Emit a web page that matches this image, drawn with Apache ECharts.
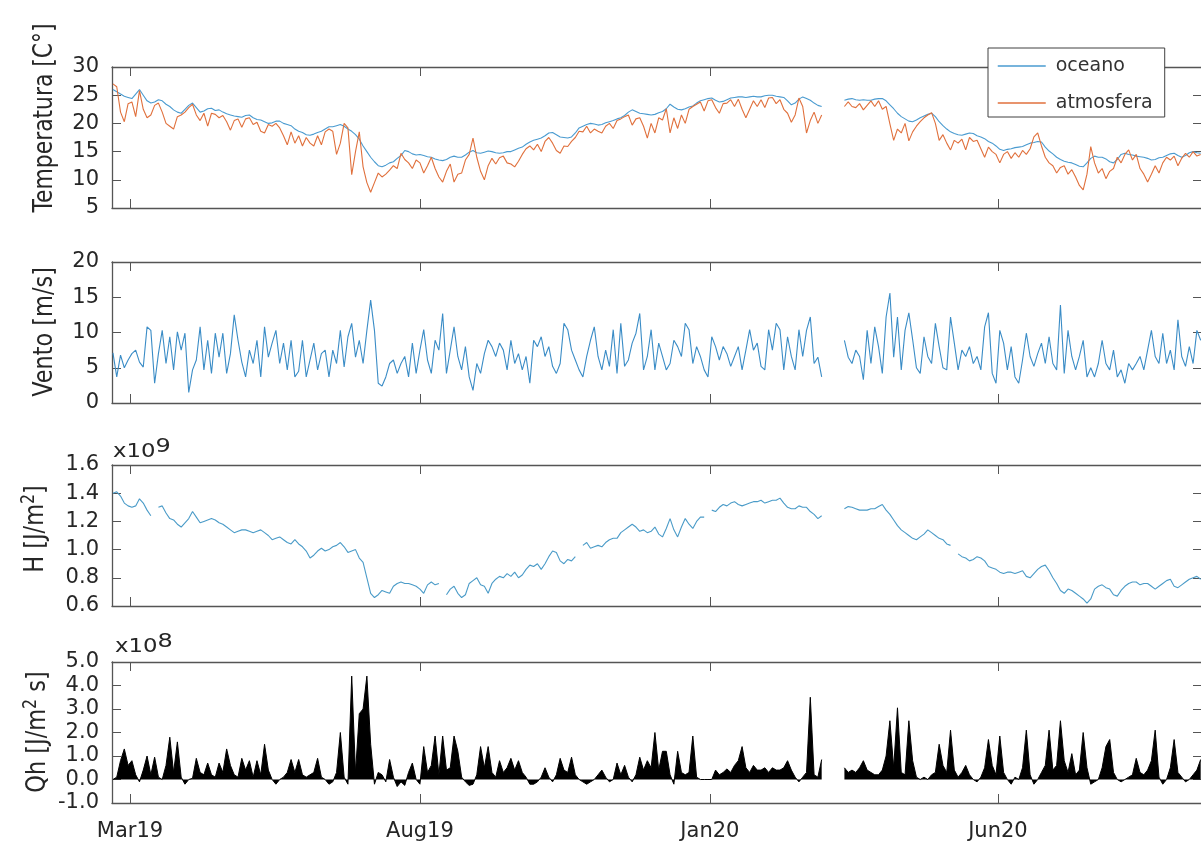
<!DOCTYPE html>
<html>
<head>
<meta charset="utf-8">
<script src="https://cdn.jsdelivr.net/npm/echarts@6.0.0/dist/echarts.min.js"></script>
<style>
html,body{margin:0;padding:0;background:#ffffff;}
#chart{width:1201px;height:846px;}
</style>
</head>
<body>
<div id="chart"></div>
<script>
// ---------------- data ----------------
const startDate = '2019-02-20';   // first sample (day 0)
const dayStep = 2;                // days between samples
const xTickDays = [9, 162, 315, 467];           // days since startDate
const xTickLabels = ['Mar19', 'Aug19', 'Jan20', 'Jun20'];
const tempTicks = [5, 10, 15, 20, 25, 30];
const ventoTicks = [0, 5, 10, 15, 20];
const hTicks = [0.6, 0.8, 1.0, 1.2, 1.4, 1.6];
const qhTicks = [-1, 0, 1, 2, 3, 4, 5];

// Temperatura [C°]
const oceano = [
26.0,25.6,25.2,24.8,24.6,24.4,25.2,26.0,25.0,24.0,
23.6,23.8,24.2,24.0,23.4,23.0,22.4,22.0,21.8,22.5,
23.2,23.6,22.8,22.0,22.2,22.6,22.7,22.3,22.4,22.0,
21.7,21.5,21.3,21.2,21.1,21.4,21.5,21.0,20.7,20.6,
20.3,20.0,20.1,20.4,20.4,20.0,19.8,19.6,19.0,18.6,
18.4,18.0,17.9,18.1,18.4,18.6,19.0,19.4,19.4,19.6,
19.8,19.5,19.0,18.6,18.0,17.2,16.0,15.0,14.0,13.2,
12.5,12.3,12.6,13.0,13.2,13.8,14.3,15.2,15.0,14.6,
14.4,14.5,14.3,14.1,14.0,13.7,13.5,13.4,13.6,14.0,
14.2,14.0,14.0,14.4,14.9,15.2,14.8,14.7,14.9,15.1,
15.0,14.8,14.7,14.8,15.0,15.0,15.3,15.6,15.8,16.3,
16.7,17.0,17.2,17.4,17.8,18.3,18.4,18.0,17.6,17.5,
17.4,17.6,18.3,19.2,19.5,19.8,20.0,19.9,19.7,19.8,
20.1,20.3,20.5,20.8,21.0,21.4,22.0,22.4,22.1,21.8,
21.7,21.6,21.5,21.6,21.9,22.1,22.6,23.4,22.9,22.5,
22.4,22.6,22.9,23.1,23.6,24.0,24.2,24.4,24.5,24.1,
23.8,23.9,24.2,24.5,24.6,24.7,24.7,24.6,24.7,24.8,
24.7,24.7,24.9,25.0,25.0,24.8,24.7,24.6,24.0,23.3,
23.6,24.3,24.7,24.4,24.1,23.6,23.2,23.0,null,null,
null,null,null,24.1,24.3,24.4,24.2,24.1,24.2,24.1,
24.1,24.3,24.4,24.4,24.0,23.3,22.6,21.8,21.2,20.8,
20.4,20.3,20.6,21.0,21.3,21.6,21.8,21.2,20.3,19.6,
19.0,18.5,18.2,18.0,17.9,18.1,18.3,18.2,17.8,17.6,
17.3,16.8,16.5,16.0,15.4,15.2,15.4,15.5,15.7,15.8,
15.9,16.2,16.5,16.6,16.8,16.7,15.8,15.1,14.6,14.0,
13.6,13.3,13.1,13.0,12.7,12.4,12.3,13.0,13.8,14.2,
14.0,14.0,13.7,13.2,13.0,13.6,14.5,14.7,14.5,14.4,
14.2,14.1,14.0,13.8,13.5,13.6,13.9,14.0,14.3,14.6,
14.7,14.3,14.0,14.3,14.8,15.0,14.8,14.7
];
const atmosfera = [
27.0,26.5,22.0,20.3,23.5,23.8,21.2,25.8,22.5,21.0,
21.5,23.2,23.6,22.0,20.0,19.5,19.0,21.2,21.5,22.0,
22.8,23.4,21.5,20.5,21.8,19.5,21.8,21.6,21.0,21.4,
20.3,18.8,20.5,20.8,19.3,20.8,21.0,19.8,20.2,18.6,
18.3,19.8,19.5,20.0,19.2,17.8,16.2,18.5,16.5,17.8,
16.0,17.5,16.5,16.0,17.8,16.2,18.5,19.0,18.6,14.5,
16.5,20.0,19.2,10.9,15.0,18.5,12.3,9.5,7.8,9.5,
11.2,10.5,11.0,11.7,12.5,12.0,14.7,13.6,13.0,12.0,
13.5,13.0,11.2,12.5,14.0,12.0,10.5,9.6,11.5,12.8,
9.6,11.0,11.2,13.5,14.5,17.4,14.0,11.5,10.0,12.5,
13.8,12.8,13.9,14.2,13.0,12.8,12.3,13.3,14.5,15.5,
16.0,15.3,16.3,15.0,16.8,17.5,16.5,15.2,14.7,16.0,
15.9,16.8,17.5,18.6,18.5,19.5,18.3,19.0,18.6,18.3,
19.5,20.0,19.1,20.5,20.8,21.2,21.5,19.7,20.8,21.0,
19.5,17.4,20.0,18.3,21.0,20.6,22.6,18.3,21.0,19.1,
21.5,20.0,22.5,23.0,23.4,23.8,22.2,24.0,24.2,22.8,
21.8,23.5,23.6,24.2,23.0,24.3,22.5,21.0,22.5,24.0,
23.0,24.2,22.8,24.5,24.6,23.5,24.2,22.5,21.8,20.2,
21.5,24.5,23.0,18.3,20.5,22.0,20.0,21.5,null,null,
null,null,null,23.0,23.8,23.0,22.8,23.5,22.4,23.2,
24.0,23.0,24.0,22.5,23.0,19.9,17.0,19.0,18.3,20.0,
16.9,18.5,19.5,20.3,21.0,21.5,21.9,20.0,17.0,18.0,
16.5,15.3,17.0,16.5,17.2,15.3,17.5,16.8,17.0,15.5,
14.0,15.8,15.0,14.5,13.0,14.5,15.0,13.8,14.8,14.0,
15.2,14.5,15.5,17.6,18.3,16.0,14.0,13.0,12.5,11.2,
12.2,12.5,11.0,11.8,10.5,9.0,8.2,11.0,15.9,13.0,
11.2,12.0,10.2,11.5,12.0,14.0,13.0,14.5,15.3,13.5,
14.5,12.0,11.0,9.6,11.0,12.5,11.2,13.0,14.0,13.5,
14.2,12.5,13.8,14.7,14.0,15.0,14.2,14.5
];
// Vento [m/s]
const vento = [
7.1,3.7,6.8,5.0,6.1,7.0,7.5,5.8,5.1,10.8,
10.3,2.8,7.0,10.3,5.6,9.4,4.7,10.1,7.5,9.9,
1.5,4.7,6.1,10.8,4.7,8.9,4.2,9.9,6.5,9.9,
4.2,7.0,12.5,8.9,5.8,3.7,7.5,5.6,8.9,3.7,
10.8,6.5,8.5,10.3,5.6,8.5,4.7,8.9,3.7,4.5,
8.9,3.7,6.1,8.5,4.7,7.0,7.5,3.7,7.5,5.6,
10.3,5.1,9.4,11.3,6.5,8.9,5.6,10.3,14.6,10.3,
2.8,2.4,3.7,5.6,6.1,4.2,5.6,6.6,3.7,8.5,
4.2,7.5,10.4,6.1,4.2,8.9,7.5,12.7,4.2,7.5,
10.8,6.6,4.7,8.0,3.7,1.8,5.6,4.2,7.0,8.9,
8.0,6.6,8.5,7.5,4.7,8.9,5.6,7.0,4.7,6.6,
2.8,8.9,8.0,9.4,6.6,8.0,5.2,4.2,5.6,11.3,
10.4,7.5,6.1,4.7,3.7,6.6,8.9,10.8,6.6,4.7,
7.5,5.2,10.4,4.2,11.3,5.2,6.1,8.5,9.9,12.7,
4.7,6.6,10.4,4.7,8.5,6.6,4.7,5.6,8.9,8.0,
6.6,11.3,10.4,5.6,8.0,6.6,4.7,3.7,9.4,8.0,
6.1,8.0,7.0,5.2,6.6,8.0,4.7,7.5,10.4,7.5,
8.5,5.2,4.7,10.4,7.5,11.3,10.4,4.7,9.4,6.6,
4.7,10.4,6.6,10.3,12.2,5.6,6.5,3.7,null,null,
null,null,null,8.9,6.5,5.6,7.5,6.6,3.3,10.3,
5.6,10.8,8.0,4.2,12.2,15.6,6.5,12.2,4.7,10.3,
12.8,9.0,5.0,4.2,9.4,6.6,5.6,11.3,8.0,5.0,
4.7,12.2,8.5,4.7,7.5,6.6,8.0,5.6,6.6,4.7,
10.8,12.8,4.2,2.8,10.3,8.5,4.7,8.0,3.7,2.8,
6.1,9.9,6.6,5.2,7.0,8.5,5.6,9.4,5.6,4.7,
13.9,4.2,10.3,6.6,4.7,6.6,8.9,3.7,5.0,3.7,
5.6,8.9,5.6,4.7,7.5,3.7,4.7,2.8,5.6,4.7,
5.6,6.6,4.7,7.5,10.3,6.6,5.6,9.9,5.6,7.5,
4.7,11.8,6.6,5.2,8.0,5.6,10.3,8.9
];
// H [J/m²] in units of 1e9
const calorH = [
1.40,1.41,1.38,1.33,1.31,1.30,1.31,1.36,1.33,1.28,
1.24,null,1.30,1.31,1.26,1.22,1.21,1.18,1.16,1.19,
1.22,1.27,1.23,1.19,1.20,1.21,1.22,1.21,1.19,1.18,
1.16,1.14,1.12,1.13,1.14,1.14,1.13,1.12,1.13,1.14,
1.12,1.10,1.07,1.08,1.09,1.07,1.05,1.04,1.07,1.04,
1.02,0.99,0.94,0.96,0.99,1.01,0.99,1.00,1.02,1.03,
1.05,1.02,0.98,0.99,1.00,0.94,0.91,0.80,0.69,0.66,
0.68,0.71,0.70,0.69,0.74,0.76,0.77,0.76,0.76,0.75,
0.74,0.72,0.69,0.75,0.77,0.75,0.76,null,0.68,0.72,
0.74,0.69,0.66,0.68,0.76,0.78,0.80,0.75,0.74,0.69,
0.76,0.79,0.81,0.80,0.83,0.81,0.84,0.80,0.82,0.86,
0.89,0.88,0.90,0.86,0.90,0.95,0.99,0.98,0.92,0.90,
0.93,0.92,0.95,null,1.03,1.05,1.01,1.02,1.03,1.02,
1.05,1.07,1.08,1.08,1.12,1.14,1.16,1.18,1.16,1.13,
1.14,1.12,1.13,1.16,1.11,1.09,1.15,1.22,1.14,1.09,
1.16,1.22,1.18,1.15,1.20,1.23,1.23,null,1.28,1.27,
1.30,1.32,1.31,1.33,1.34,1.32,1.31,1.32,1.33,1.34,
1.34,1.35,1.33,1.34,1.35,1.35,1.365,1.33,1.30,1.29,
1.29,1.31,1.30,1.30,1.27,1.25,1.22,1.24,null,null,
null,null,null,1.29,1.305,1.30,1.29,1.28,1.28,1.28,
1.29,1.29,1.305,1.32,1.28,1.25,1.21,1.17,1.14,1.12,
1.10,1.08,1.07,1.09,1.11,1.14,1.12,1.10,1.08,1.07,
1.04,1.03,null,0.97,0.95,0.94,0.92,0.93,0.95,0.94,
0.92,0.88,0.87,0.86,0.84,0.83,0.84,0.84,0.83,0.84,
0.85,0.81,0.80,0.83,0.86,0.88,0.89,0.85,0.80,0.76,
0.71,0.69,0.72,0.71,0.69,0.67,0.65,0.62,0.65,0.72,
0.74,0.75,0.73,0.72,0.68,0.67,0.71,0.74,0.76,0.77,
0.77,0.75,0.76,0.76,0.74,0.72,0.74,0.76,0.78,0.79,
0.74,0.73,0.75,0.77,0.79,0.80,0.81,0.79
];
// Qh [J/m² s] in units of 1e8
const fluxoQh = [
0.0,0.1,0.8,1.3,0.6,0.8,0.2,-0.1,0.4,1.0,
0.2,0.95,0.1,0.0,0.6,1.8,0.3,1.6,0.1,-0.2,
0.0,0.05,0.9,0.3,0.2,0.7,0.2,0.1,0.7,0.3,
1.3,0.6,0.2,0.1,0.9,0.4,0.8,0.1,0.8,0.2,
1.5,0.4,0.0,-0.2,0.0,0.1,0.3,0.85,0.3,0.85,
0.2,0.1,0.2,0.3,0.9,0.1,0.0,-0.2,-0.1,0.3,
2.0,0.1,-0.2,4.4,0.3,2.8,3.0,4.4,1.5,-0.2,
0.3,0.2,-0.1,0.85,0.1,-0.3,-0.1,-0.25,0.3,0.7,
0.0,-0.2,1.4,0.3,0.6,1.85,0.2,1.85,0.4,0.5,
1.85,1.2,0.1,-0.1,-0.25,-0.2,0.2,1.4,0.5,1.4,
0.3,0.1,0.8,0.3,0.5,0.9,0.4,0.8,0.3,0.1,
-0.2,-0.2,-0.1,0.1,0.5,0.1,-0.1,0.2,0.9,0.4,
0.3,0.95,0.2,0.0,-0.1,-0.2,-0.1,0.0,0.2,0.4,
0.1,-0.1,0.0,0.7,0.2,0.6,0.1,-0.1,0.2,0.95,
0.4,0.8,0.5,2.0,0.4,1.2,1.2,0.2,-0.2,1.2,
0.3,0.2,0.3,1.85,0.1,0.0,0.0,0.0,0.0,0.4,
0.2,0.3,0.45,0.3,0.6,0.8,1.4,0.5,0.3,0.6,
0.4,0.4,0.5,0.3,0.5,0.4,0.4,0.5,0.8,0.4,
0.1,-0.1,0.1,0.3,3.5,0.2,0.1,0.85,null,null,
null,null,null,0.5,0.3,0.4,0.3,0.5,0.8,0.4,
0.3,0.2,0.2,0.4,1.0,2.5,0.5,3.05,0.3,0.2,
2.5,0.8,0.1,0.0,0.1,0.0,0.2,0.3,1.5,0.6,
0.3,2.1,0.4,0.1,0.3,0.6,0.2,0.0,-0.1,0.1,
0.5,1.7,0.6,0.2,1.85,0.3,0.0,-0.2,0.1,0.0,
0.5,2.1,0.2,-0.2,0.0,0.3,0.6,2.1,0.4,0.6,
2.5,0.8,0.3,1.1,0.2,0.4,2.0,0.5,-0.2,-0.1,
0.0,0.5,1.4,1.7,0.3,0.0,-0.1,0.0,0.1,0.2,
0.9,0.3,0.2,0.4,0.8,2.1,0.1,-0.2,0.0,0.5,
1.7,0.3,0.1,-0.1,0.0,0.2,0.4,0.85
];

// ---------------- chart ----------------
const FONT = 'DejaVu Sans';
const TXT = '#262626';
const AXC = '#555555';
const xMin = -0.5, xMax = 574.7;
const grids = [
  {left: 112, top: 67, width: 1090, height: 141},
  {left: 112, top: 262, width: 1090, height: 141},
  {left: 112, top: 465, width: 1090, height: 141},
  {left: 112, top: 662, width: 1090, height: 141}
];
grids.forEach(g => { g.outerBoundsMode = 'none'; g.containLabel = false; });
const yTickSets = [tempTicks, ventoTicks, hTicks, qhTicks];
const yDec = [0, 0, 1, 1];
function pairs(arr) { return arr.map((v, i) => [i * dayStep, v]); }

const xAxes = [], yAxes = [];
grids.forEach((g, k) => {
  ['bottom', 'top'].forEach(pos => {
    xAxes.push({
      type: 'value', gridIndex: k, position: pos, min: xMin, max: xMax,
      axisLine: {show: true, onZero: false, lineStyle: {color: AXC, width: 1.3}},
      axisTick: {show: true, inside: true, length: 9, customValues: xTickDays, lineStyle: {color: AXC, width: 1}},
      axisLabel: {
        show: k === 3 && pos === 'bottom', customValues: xTickDays, margin: 18,
        fontFamily: FONT, fontSize: 21, color: TXT,
        formatter: v => { const j = xTickDays.indexOf(v); return j >= 0 ? xTickLabels[j] : ''; }
      },
      splitLine: {show: false}
    });
  });
  const t = yTickSets[k];
  ['left', 'right'].forEach(pos => {
    yAxes.push({
      type: 'value', gridIndex: k, position: pos, min: t[0], max: t[t.length - 1],
      axisLine: {show: true, onZero: false, lineStyle: {color: AXC, width: 1.3}},
      axisTick: {show: true, inside: true, length: 9, customValues: t, lineStyle: {color: AXC, width: 1}},
      axisLabel: {
        show: pos === 'left', customValues: t, margin: 13,
        fontFamily: FONT, fontSize: 21, color: TXT,
        formatter: v => Number(v).toFixed(yDec[k])
      },
      splitLine: {show: false}
    });
  });
});

function lineSeries(name, data, k, color, extra) {
  return Object.assign({
    name: name, type: 'line', xAxisIndex: 2 * k, yAxisIndex: 2 * k,
    data: pairs(data), symbol: 'none', showSymbol: false, connectNulls: false,
    lineStyle: {color: color, width: 1.1}, itemStyle: {color: color},
    animation: false
  }, extra || {});
}

const nameStyle = {fontFamily: FONT, fontSize: 27, fill: TXT};
const option = {
  backgroundColor: '#ffffff',
  animation: false,
  grid: grids,
  xAxis: xAxes,
  yAxis: yAxes,
  legend: {
    data: ['oceano', 'atmosfera'], orient: 'vertical', left: 988, top: 48,
    padding: [8, 12, 4, 9], itemGap: 17, itemWidth: 48, itemHeight: 20,
    backgroundColor: '#ffffff', borderColor: '#404040', borderWidth: 1, borderRadius: 0,
    textStyle: {fontFamily: FONT, fontSize: 19, color: '#333333', lineHeight: 20, padding: [0, 0, 0, 5]},
    itemStyle: {opacity: 0},
    lineStyle: {width: 1.5}
  },
  series: [
    lineSeries('oceano', oceano, 0, '#4a9bd0'),
    lineSeries('atmosfera', atmosfera, 0, '#e0703c'),
    lineSeries('vento', vento, 1, '#3a8cc6'),
    lineSeries('H', calorH, 2, '#4a9bc8'),
    lineSeries('Qh', fluxoQh, 3, '#000000', {areaStyle: {color: '#000000', opacity: 1}, lineStyle: {color: '#000000', width: 1}})
  ],
  graphic: [
    {type: 'text', x: 45, y: 118, rotation: Math.PI / 2, scaleX: 0.81,
      style: Object.assign({text: 'Temperatura [C°]', align: 'center', verticalAlign: 'middle'}, nameStyle)},
    {type: 'text', x: 45, y: 332, rotation: Math.PI / 2, scaleX: 0.83,
      style: Object.assign({text: 'Vento [m/s]', align: 'center', verticalAlign: 'middle'}, nameStyle)},
    {type: 'text', x: 36, y: 529, rotation: Math.PI / 2, scaleX: 0.83,
      style: {text: '{n|H [J/m}{s|2}{n|]}', align: 'center', verticalAlign: 'middle',
        rich: {n: {fontFamily: FONT, fontSize: 27, fill: TXT, lineHeight: 32},
               s: {fontFamily: FONT, fontSize: 19, fill: TXT, lineHeight: 18, verticalAlign: 'top'}}}},
    {type: 'text', x: 38, y: 732, rotation: Math.PI / 2, scaleX: 0.83,
      style: {text: '{n|Qh [J/m}{s|2}{n| s]}', align: 'center', verticalAlign: 'middle',
        rich: {n: {fontFamily: FONT, fontSize: 27, fill: TXT, lineHeight: 32},
               s: {fontFamily: FONT, fontSize: 19, fill: TXT, lineHeight: 18, verticalAlign: 'top'}}}},
    {type: 'text', x: 113, y: 437, scaleX: 1.2,
      style: {text: '{a|x10}{b|9}', align: 'left', verticalAlign: 'top',
        rich: {a: {fontFamily: FONT, fontSize: 19, fill: TXT, lineHeight: 30},
               b: {fontFamily: FONT, fontSize: 20, fill: TXT, lineHeight: 14, verticalAlign: 'top'}}}},
    {type: 'text', x: 115, y: 632, scaleX: 1.2,
      style: {text: '{a|x10}{b|8}', align: 'left', verticalAlign: 'top',
        rich: {a: {fontFamily: FONT, fontSize: 19, fill: TXT, lineHeight: 30},
               b: {fontFamily: FONT, fontSize: 20, fill: TXT, lineHeight: 14, verticalAlign: 'top'}}}}
  ]
};

const chart = echarts.init(document.getElementById('chart'), null, {renderer: 'canvas'});
chart.setOption(option);
</script>
</body>
</html>
